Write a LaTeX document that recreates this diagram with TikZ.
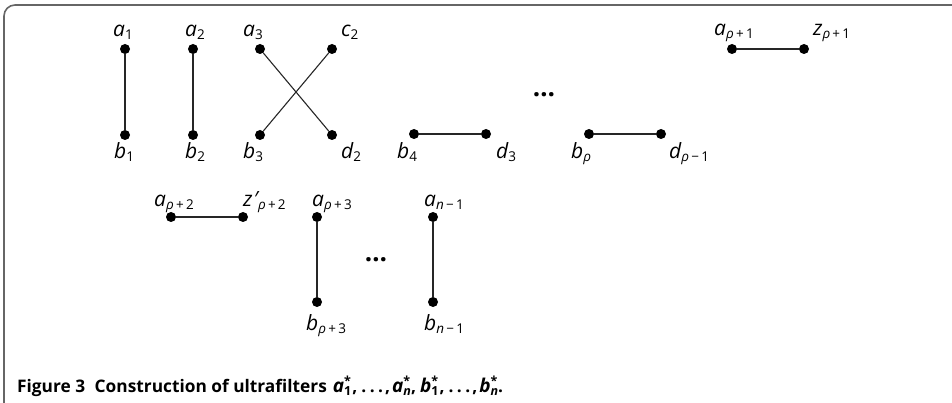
\documentclass[tikz,border=0pt]{standalone}
\usepackage{fontspec}
\setmainfont{Open Sans}
\newcommand{\lbl}[2]{{\fontsize{21}{24}\selectfont\itshape #1}\raisebox{-3pt}{\fontsize{13.5}{15}\selectfont #2}}
\newcommand{\gr}{{\itshape ρ}}
\newcommand{\capss}[2]{\makebox[0pt][l]{\raisebox{6.5pt}{\fontsize{12.5}{13}\selectfont #1}}\raisebox{-3.5pt}{\fontsize{12.5}{13}\selectfont #2}}
\newcommand{\cv}[1]{{\fontsize{19}{20}\selectfont\itshape #1}}
\newcommand{\capdots}{.\kern3.5pt.\kern3.5pt.}
\tikzset{
  dotnode/.style={circle,fill=black,inner sep=0pt,minimum size=10pt},
  lab/.style={anchor=base west,inner sep=0pt},
  link/.style={line width=1.1pt,draw=black!85},
  frame/.style={draw=black!60,line width=1.6pt,rounded corners=11pt},
  ell/.style={font=\fontsize{26}{28}\selectfont\bfseries}
}
\begin{document}
\begin{tikzpicture}[x=1pt,y=-1pt]
\useasboundingbox (0,0) rectangle (952,403);
\draw[frame] (970,5) -- (4,5) -- (4,415) -- (30,415);
% row 1
\node[dotnode] (a1) at (125,49) {};
\node[dotnode] (b1) at (125,135) {};
\node[dotnode] (a2) at (193,49) {};
\node[dotnode] (b2) at (193,135) {};
\node[dotnode] (a3) at (260,49) {};
\node[dotnode] (c2) at (332,49) {};
\node[dotnode] (b3) at (260,135) {};
\node[dotnode] (d2) at (332,135) {};
\node[dotnode] (b4) at (414,134) {};
\node[dotnode] (d3) at (486,134) {};
\node[dotnode] (brho) at (589,134) {};
\node[dotnode] (drho) at (661,134) {};
\node[dotnode] (arho1) at (732,49) {};
\node[dotnode] (zrho1) at (804,49) {};
% row 2
\node[dotnode] (arho2) at (171,217) {};
\node[dotnode] (zrho2) at (243,217) {};
\node[dotnode] (arho3) at (317,217) {};
\node[dotnode] (brho3) at (317,302) {};
\node[dotnode] (an1) at (433,217) {};
\node[dotnode] (bn1) at (433,302) {};
% links
\draw[link] (a1) -- (b1);
\draw[link] (a2) -- (b2);
\draw[link] (a3) -- (d2);
\draw[link] (c2) -- (b3);
\draw[link] (b4) -- (d3);
\draw[link] (brho) -- (drho);
\draw[link] (arho1) -- (zrho1);
\draw[link] (arho2) -- (zrho2);
\draw[link] (arho3) -- (brho3);
\draw[link] (an1) -- (bn1);
% labels
\node[lab] (la1) at (113,37) {\lbl{a}{1}};
\node[lab] (la2) at (185,37) {\lbl{a}{2}};
\node[lab] (la3) at (243,37) {\lbl{a}{3}};
\node[lab] (lc2) at (341,37) {\lbl{c}{2}};
\node[lab] (lb1) at (114,159) {\lbl{b}{1}};
\node[lab] (lb2) at (185,159) {\lbl{b}{2}};
\node[lab] (lb3) at (243,159) {\lbl{b}{3}};
\node[lab] (ld2) at (341,159) {\lbl{d}{2}};
\node[lab] (lb4) at (397,159) {\lbl{b}{4}};
\node[lab] (ld3) at (496,159) {\lbl{d}{3}};
\node[lab] (lbrho) at (571,159) {\lbl{b}{\gr}};
\node[lab] (ldrho) at (669,159) {\lbl{d}{\gr\,−\,1}};
\node[lab] (larho1) at (714,36) {\lbl{a}{\gr\,+\,1}};
\node[lab] (lzrho1) at (813,36) {\lbl{z}{\gr\,+\,1}};
\node[lab] (larho2) at (154,207) {\lbl{a}{\gr\,+\,2}};
\node[lab] (lzrho2) at (243,207) {\lbl{z}{\kern1pt\raisebox{3pt}{\fontsize{21}{24}\selectfont\itshape\char"2032}\gr\,+\,2}};
\node[lab] (larho3) at (312,207) {\lbl{a}{\gr\,+\,3}};
\node[lab] (lan1) at (424,207) {\lbl{a}{{\itshape n}\,−\,1}};
\node[lab] (lbrho3) at (306,330) {\lbl{b}{\gr\,+\,3}};
\node[lab] (lbn1) at (424,330) {\lbl{b}{{\itshape n}\,−\,1}};
% ellipses
\node[ell,anchor=base] (dots1) at (544,97) {…};
\node[ell,anchor=base] (dots2) at (376,261) {…};
% caption
\node[anchor=base west,inner sep=0pt,font=\fontsize{17.3}{20}\selectfont\bfseries] (cap) at (17,392)
 {Figure 3\hspace{0.55em}Construction of ultrafilters\hspace{0.35em}\cv{a}\capss{*}{1}\kern1pt,\kern4pt\capdots\kern2pt,\kern2pt\cv{a}\capss{*}{\itshape n},\kern4pt\cv{b}\capss{*}{1}\kern1pt,\kern4pt\capdots\kern2pt,\kern2pt\cv{b}\capss{*}{\itshape n}.};
\end{tikzpicture}
\end{document}
